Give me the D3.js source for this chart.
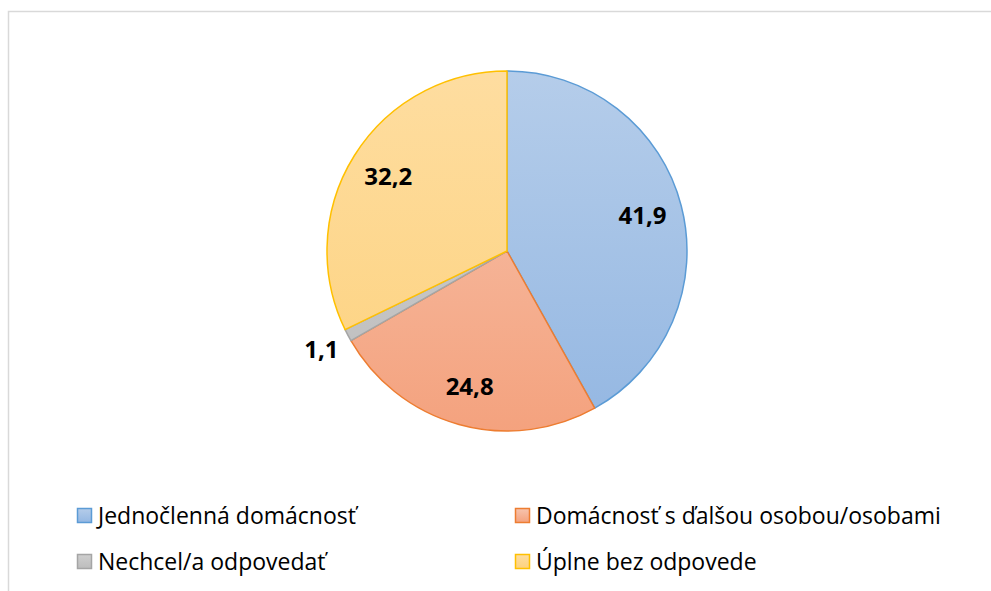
<!DOCTYPE html>
<html><head><meta charset="utf-8">
<script src="https://cdn.jsdelivr.net/npm/d3@7"></script>
<style>body{margin:0;background:#fff;}svg{display:block;}</style>
</head><body>
<script>
const categories = ["Jednočlenná domácnosť", "Domácnosť s ďalšou osobou/osobami", "Nechcel/a odpovedať", "Úplne bez odpovede"];
const values = [41.9, 24.8, 1.1, 32.2];
const labels = ["41,9", "24,8", "1,1", "32,2"];
const strokeColors = ["#5b9bd5", "#ed7d31", "#a5a5a5", "#ffc000"];
const gradTop = ["#b5cdea", "#f7c4ae", "#cfcfcf", "#fedda0"];
const gradBottom = ["#94b7e2", "#f4a27e", "#bdbdbd", "#fdd27e"];

const W = 991, H = 591;
const FONT = "'Open Sans', Lato, sans-serif";
const svg = d3.select("body").append("svg").attr("width", W).attr("height", H);
svg.append("rect").attr("x", 8.5).attr("y", 11.5).attr("width", 1100).attr("height", 700)
  .attr("fill", "#fff").attr("stroke", "#d9d9d9").attr("stroke-width", 1.5);

const defs = svg.append("defs");
categories.forEach((c, i) => {
  const g = defs.append("linearGradient").attr("id", "g" + i)
    .attr("gradientUnits", "userSpaceOnUse")
    .attr("x1", 0).attr("y1", -180).attr("x2", 0).attr("y2", 180);
  g.append("stop").attr("offset", "0%").attr("stop-color", gradTop[i]);
  g.append("stop").attr("offset", "100%").attr("stop-color", gradBottom[i]);
});

const cx = 507, cy = 251, R = 180;
const pie = d3.pie().sort(null).value(d => d)(values);
const arc = d3.arc().innerRadius(0).outerRadius(R);
const gp = svg.append("g").attr("transform", `translate(${cx},${cy})`);
gp.selectAll("path").data(pie).join("path")
  .attr("d", arc)
  .attr("fill", (d, i) => `url(#g${i})`)
  .attr("stroke", (d, i) => strokeColors[i])
  .attr("stroke-width", 1.5)
  .attr("stroke-linejoin", "round");

const inArc = d3.arc().innerRadius(140).outerRadius(140);
const outArc = d3.arc().innerRadius(210).outerRadius(210);
gp.selectAll("text").data(pie).join("text")
  .attr("transform", (d, i) => `translate(${(values[i] < 3 ? outArc : inArc).centroid(d)})`)
  .attr("text-anchor", "middle").attr("dy", "0.36em")
  .attr("font-family", FONT).attr("font-weight", "bold")
  .attr("font-size", 24).attr("fill", "#000")
  .text((d, i) => labels[i]);

const legendPos = [[77, 516], [515, 516], [77, 562], [515, 562]];
const lg = svg.append("g");
categories.forEach((c, i) => {
  const [x, y] = legendPos[i];
  const g = defs.append("linearGradient").attr("id", "lg" + i)
    .attr("x1", 0).attr("y1", 0).attr("x2", 0).attr("y2", 1);
  g.append("stop").attr("offset", "0%").attr("stop-color", gradTop[i]);
  g.append("stop").attr("offset", "100%").attr("stop-color", gradBottom[i]);
  lg.append("rect").attr("x", x + 0.5).attr("y", y - 7.5).attr("width", 14).attr("height", 14)
    .attr("fill", `url(#lg${i})`).attr("stroke", strokeColors[i]).attr("stroke-width", 1.5);
  lg.append("text").attr("x", x + 21).attr("y", y).attr("dy", "0.36em")
    .attr("font-family", FONT).attr("font-size", 23)
    .attr("fill", "#000").text(c);
});
</script>
</body></html>
